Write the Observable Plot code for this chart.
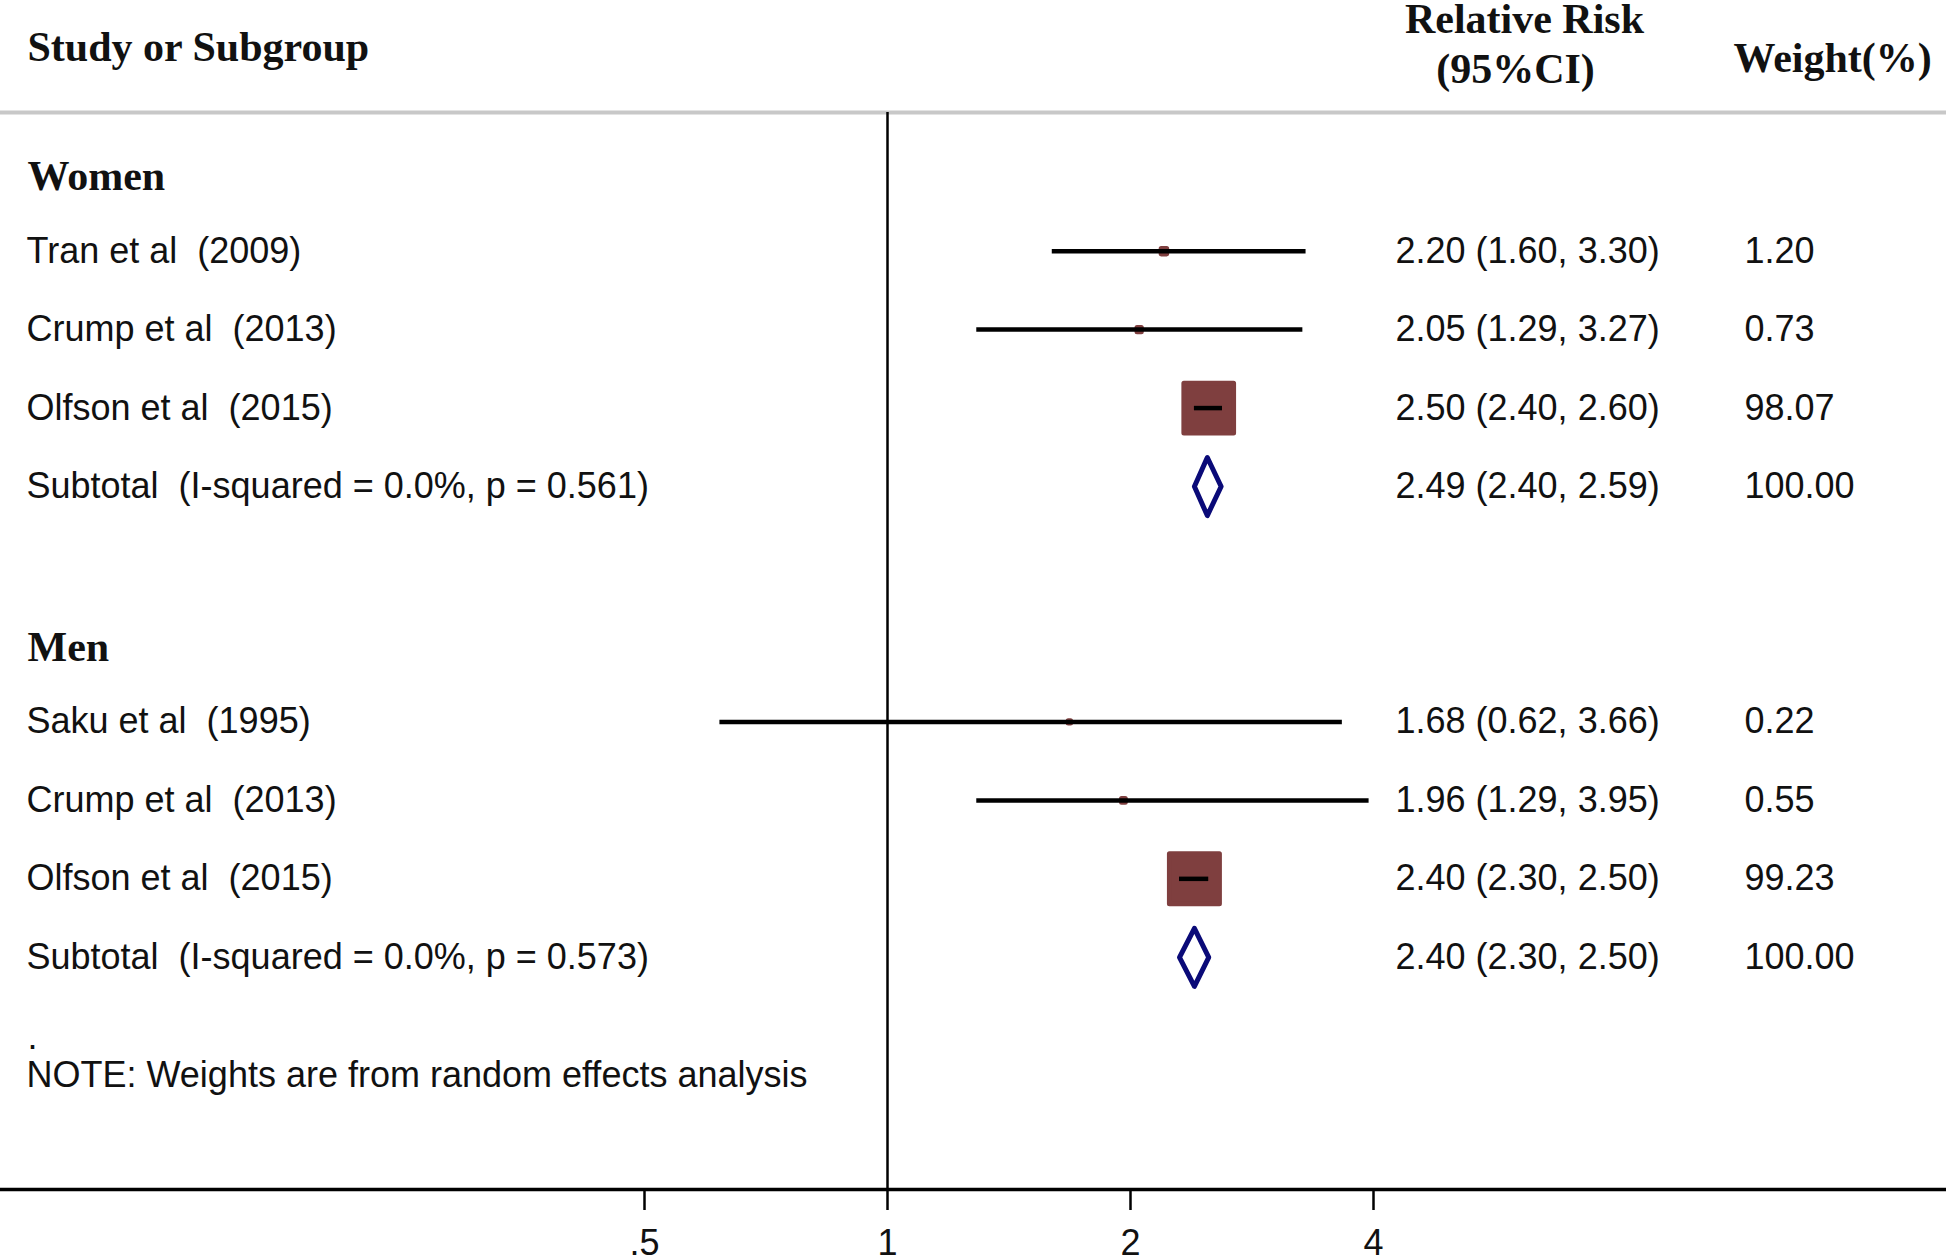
<!DOCTYPE html>
<html>
<head>
<meta charset="utf-8">
<script src="https://cdn.jsdelivr.net/npm/d3@7"></script>
<script src="https://cdn.jsdelivr.net/npm/@observablehq/plot@0.6"></script>
<style>
  html, body { margin: 0; padding: 0; background: #ffffff; }
</style>
</head>
<body>
<script>
// ---- data ----
const groups = ["Women", "Men"];
const studyGroup = ["Women", "Women", "Women", "Men", "Men", "Men"];
const studyNames = ["Tran et al  (2009)", "Crump et al  (2013)", "Olfson et al  (2015)",
                    "Saku et al  (1995)", "Crump et al  (2013)", "Olfson et al  (2015)"];
const studyRR = [2.20, 2.05, 2.50, 1.68, 1.96, 2.40];
const studyLo = [1.60, 1.29, 2.40, 0.62, 1.29, 2.30];
const studyHi = [3.30, 3.27, 2.60, 3.66, 3.95, 2.50];
const studyWeight = [1.20, 0.73, 98.07, 0.22, 0.55, 99.23];
const subtotalLabels = ["Subtotal  (I-squared = 0.0%, p = 0.561)", "Subtotal  (I-squared = 0.0%, p = 0.573)"];
const subtotalRR = [2.49, 2.40];
const subtotalLo = [2.40, 2.30];
const subtotalHi = [2.59, 2.50];
const subtotalWeight = [100.00, 100.00];
const xTicks = [0.5, 1, 2, 4];
const xTickLabels = [".5", "1", "2", "4"];
const headerLabels = ["Study or Subgroup", "Relative Risk", "(95%CI)", "Weight(%)"];
const noteText = "NOTE: Weights are from random effects analysis";

// keep double spaces visible in SVG text
const keepSpaces = s => s.replace(/ {2}/g, " \u00a0");

// ---- build row table ----
const f2 = d3.format(".2f");
const headers = [], studies = [], subtotals = [];
let rowIdx = 0;
groups.forEach((g, gi) => {
  headers.push({label: g, row: rowIdx++});
  studyGroup.forEach((sg, i) => {
    if (sg !== g) return;
    studies.push({label: keepSpaces(studyNames[i]), rr: studyRR[i], lo: studyLo[i], hi: studyHi[i], weight: studyWeight[i], row: rowIdx++});
  });
  subtotals.push({label: keepSpaces(subtotalLabels[gi]), rr: subtotalRR[gi], lo: subtotalLo[gi], hi: subtotalHi[gi], weight: subtotalWeight[gi], group: g, row: rowIdx++});
  rowIdx++; // blank row
});
const textRows = [...studies, ...subtotals];
const diamondHalf = 0.37;
const diamonds = subtotals.flatMap(s => [
  {group: s.group, x: s.lo, y: s.row},
  {group: s.group, x: s.rr, y: s.row - diamondHalf},
  {group: s.group, x: s.hi, y: s.row},
  {group: s.group, x: s.rr, y: s.row + diamondHalf}
]);

// ---- layout ----
const W = 1946, H = 1258;
const frameTop = 112, frameBottom = 1189;
const row0 = 172.2, rowPx = 78.46;
const yTop = (frameTop - row0) / rowPx, yBottom = (frameBottom - row0) / rowPx;
const xPx0 = 644, xPx1 = 1373, xD0 = 0.5, xD1 = 4;
// position helpers (pixel -> scale value) for the text columns
const xAt = px => xD0 * Math.pow(xD1 / xD0, (px - xPx0) / (xPx1 - xPx0));
const yAt = px => (px - row0) / rowPx;
const colLabel = xAt(26), colGroup = xAt(27), colRR = xAt(1395), colW = xAt(1744);

const ink = "#111111";
const boxColor = "#7f3f3f";
const diamondColor = "#0a0a78";
const sans = "Liberation Sans, Arial, sans-serif";
const serif = "Liberation Serif, Times New Roman, serif";
const bold = {fontFamily: serif, fontWeight: "bold", fontSize: 42, fill: ink, lineAnchor: "middle"};
const plain = {fontSize: 36, fill: ink, textAnchor: "start", lineAnchor: "middle"};

const chart = Plot.plot({
  width: W,
  height: H,
  marginTop: frameTop,
  marginBottom: H - frameBottom,
  marginLeft: 0,
  marginRight: 0,
  style: {fontFamily: sans, fontSize: "36px", color: ink, background: "#ffffff"},
  x: {type: "log", domain: [xD0, xD1], range: [xPx0, xPx1]},
  y: {domain: [yTop, yBottom], range: [frameTop, frameBottom]},
  r: {range: [0, 28.2]},
  marks: [
    Plot.ruleY([yTop], {stroke: "#c8c8c8", strokeWidth: 4}),
    Plot.ruleX([1], {stroke: "#000000", strokeWidth: 2.5}),
    Plot.ruleY([yBottom], {stroke: "#000000", strokeWidth: 3.5}),
    Plot.axisX({
      ticks: xTicks,
      tickFormat: d => xTickLabels[xTicks.indexOf(d)],
      tickSize: 21, tickPadding: 19, strokeWidth: 2.5,
      fontSize: 36, label: null, anchor: "bottom", stroke: "#000000", fill: ink
    }),
    Plot.dot(studies, {x: "rr", y: "row", r: "weight", symbol: "square",
      fill: boxColor, stroke: boxColor, strokeWidth: 5, strokeLinejoin: "round"}),
    Plot.ruleY(studies, {y: "row", x1: "lo", x2: "hi", stroke: "#000000", strokeWidth: 4.5}),
    Plot.line(diamonds, {x: "x", y: "y", z: "group", curve: "linear-closed",
      stroke: diamondColor, strokeWidth: 5, strokeLinejoin: "round", fill: "none"}),
    // column headers
    Plot.text([headerLabels[0]], {x: () => colGroup, y: () => yAt(47), text: d => d, textAnchor: "start", ...bold}),
    Plot.text([headerLabels[1]], {x: () => xAt(1524), y: () => yAt(19), text: d => d, textAnchor: "middle", ...bold}),
    Plot.text([headerLabels[2]], {x: () => xAt(1515), y: () => yAt(69.5), text: d => d, textAnchor: "middle", ...bold}),
    Plot.text([headerLabels[3]], {x: () => xAt(1733), y: () => yAt(58), text: d => d, textAnchor: "start", ...bold}),
    // group headers
    Plot.text(headers, {x: () => colGroup, y: d => d.row + 0.05, text: "label", textAnchor: "start", ...bold}),
    // row labels and columns
    Plot.text(textRows, {x: () => colLabel, y: "row", text: "label", ...plain}),
    Plot.text(textRows, {x: () => colRR, y: "row", text: d => `${f2(d.rr)} (${f2(d.lo)}, ${f2(d.hi)})`, ...plain}),
    Plot.text(textRows, {x: () => colW, y: "row", text: d => f2(d.weight), ...plain}),
    // note
    Plot.text(["."], {x: () => colGroup, y: () => 11.02, text: d => d, ...plain}),
    Plot.text([noteText], {x: () => colLabel, y: () => 11.5, text: d => d, ...plain})
  ]
});
document.body.appendChild(chart);
</script>
</body>
</html>
